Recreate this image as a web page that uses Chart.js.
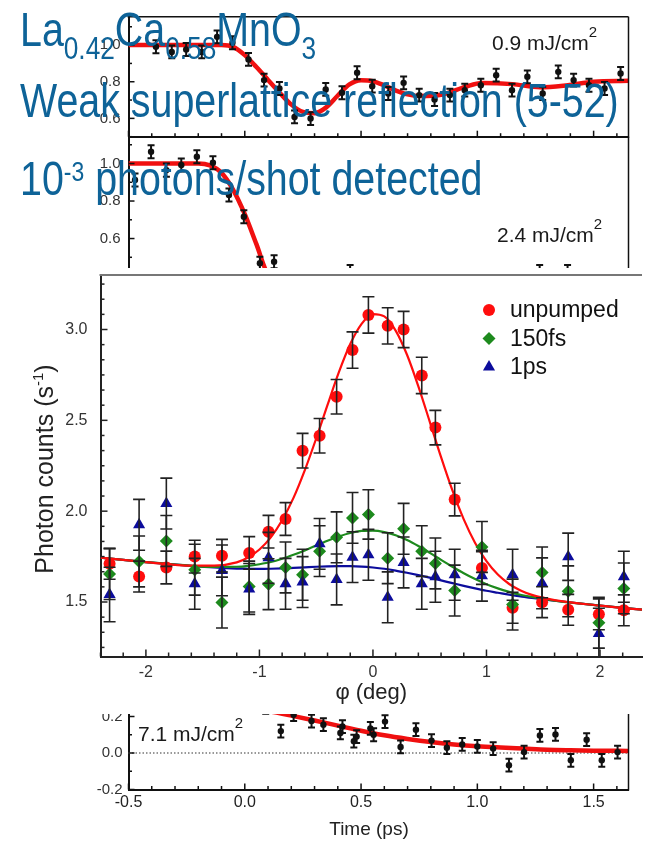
<!DOCTYPE html>
<html lang="en">
<head>
<meta charset="utf-8">
<title>LCMO superlattice reflection</title>
<script src="https://cdn.jsdelivr.net/npm/chart.js@4.4.1/dist/chart.umd.min.js"></script>
<style>
  html, body { margin: 0; padding: 0; background: #fff; }
  #page { position: relative; width: 649px; height: 843px; overflow: hidden; background: #fff;
          font-family: "Liberation Sans", Arial, Helvetica, sans-serif; }
  #page canvas { position: absolute; left: 0; }
  .soft { filter: blur(0.4px); }
  #mainBox { position: absolute; left: 0; top: 268px; width: 649px; height: 446px; background: #fff; z-index: 2; }
  #mainBox canvas { top: 0; }
  .note { position: absolute; left: 20px; font-size: 48px; line-height: 48px; color: #0e6398; white-space: nowrap;
          transform: scaleX(0.82); transform-origin: 0 0; z-index: 5; }
  .note .lo { font-size: 32px; position: relative; top: 13px; }
  .note .hi { font-size: 28px; position: relative; top: -14px; }
  .fluence { position: absolute; font-size: 21px; line-height: 21px; color: #1a1a1a; white-space: nowrap; z-index: 1;
             filter: blur(0.3px); }
  .fluence sup { font-size: 15px; position: relative; top: -13px; vertical-align: baseline; }
</style>
</head>
<body>
<div id="page">
  <canvas id="fluenceLow" class="soft" width="649" height="150" style="top:0"></canvas>
  <canvas id="fluenceMid" class="soft" width="649" height="200" style="top:130px"></canvas>
  <canvas id="fluenceHigh" class="soft" width="649" height="153" style="top:690px"></canvas>
  <div class="fluence" style="left:492px;top:32px">0.9 mJ/cm<sup>2</sup></div>
  <div class="fluence" style="left:497px;top:224px">2.4 mJ/cm<sup>2</sup></div>
  <div class="fluence" style="left:138px;top:723px">7.1 mJ/cm<sup>2</sup></div>
  <div id="mainBox"><canvas id="rocking" width="649" height="446"></canvas></div>
  <div class="note" style="top:6px">La<span class="lo">0.42</span>Ca<span class="lo">0.58</span>MnO<span class="lo">3</span></div>
  <div class="note" style="top:77px">Weak superlattice reflection (5-52)</div>
  <div class="note" style="top:155px">10<span class="hi">-3</span> photons/shot detected</div>
</div>
<script>
const PAGE_FONT = '"Liberation Sans", Arial, Helvetica, sans-serif';
Chart.defaults.font.family = PAGE_FONT;

// rocking curves: sample angle (deg) shared by all three scans
const phiDeg = [-2.32, -2.06, -1.82, -1.57, -1.33, -1.09, -0.92, -0.77, -0.62, -0.47, -0.32, -0.18,
                -0.04, 0.13, 0.27, 0.43, 0.55, 0.72, 0.96, 1.23, 1.49, 1.72, 1.99, 2.21];
const unpumped = [1.71, 1.64, 1.69, 1.75, 1.755, 1.77, 1.887, 1.957, 2.333, 2.415, 2.63, 2.887,
                  3.08, 3.02, 3.00, 2.747, 2.46, 2.064, 1.687, 1.468, 1.499, 1.457, 1.432, 1.454];
const unpumpedErr = [0.085, 0.085, 0.09, 0.09, 0.09, 0.09, 0.09, 0.09, 0.095, 0.095, 0.095, 0.1,
                     0.1, 0.1, 0.1, 0.1, 0.095, 0.09, 0.09, 0.085, 0.085, 0.085, 0.085, 0.085];
const delay150fs = [1.654, 1.723, 1.836, 1.678, 1.497, 1.585, 1.598, 1.69, 1.65, 1.78, 1.856, 1.963,
                    1.982, 1.741, 1.903, 1.78, 1.712, 1.563, 1.803, 1.486, 1.663, 1.559, 1.386, 1.575];
const delay150fsErr = [0.14, 0.14, 0.14, 0.14, 0.14, 0.14, 0.14, 0.14, 0.14, 0.14, 0.14, 0.14,
                       0.136, 0.14, 0.14, 0.14, 0.14, 0.14, 0.14, 0.14, 0.14, 0.14, 0.14, 0.14];
const delay1ps = [1.541, 1.925, 2.042, 1.60, 1.674, 1.572, 1.743, 1.60, 1.61, 1.82, 1.624, 1.747,
                  1.76, 1.526, 1.718, 1.60, 1.639, 1.65, 1.645, 1.65, 1.603, 1.749, 1.326, 1.639];
const delay1psErr = [0.15, 0.14, 0.14, 0.14, 0.14, 0.14, 0.14, 0.14, 0.14, 0.14, 0.14, 0.14,
                     0.14, 0.14, 0.14, 0.14, 0.14, 0.14, 0.14, 0.14, 0.14, 0.13, 0.14, 0.14];

// fitted profiles on a common angle grid
const fitPhi = [-2.4, -2.0, -1.6, -1.4, -1.2, -1.1, -1.0, -0.9, -0.8, -0.7, -0.6, -0.5, -0.4, -0.3, -0.2, -0.1,
                0.0, 0.1, 0.2, 0.3, 0.4, 0.5, 0.6, 0.7, 0.8, 0.9, 1.0, 1.1, 1.2, 1.3, 1.4, 1.6, 2.0, 2.37];
const unpumpedFit = [1.744, 1.72, 1.70, 1.70, 1.718, 1.745, 1.789, 1.856, 1.950, 2.073, 2.226, 2.400, 2.585, 2.765, 2.920, 3.031,
                     3.085, 3.072, 2.994, 2.861, 2.687, 2.493, 2.297, 2.114, 1.955, 1.825, 1.725, 1.651, 1.599, 1.563, 1.539, 1.510, 1.480, 1.458];
const delay150fsFit = [1.744, 1.72, 1.699, 1.693, 1.694, 1.699, 1.708, 1.72, 1.738, 1.76, 1.784, 1.811, 1.837, 1.861, 1.88, 1.891,
                       1.893, 1.885, 1.867, 1.841, 1.808, 1.771, 1.732, 1.694, 1.658, 1.626, 1.598, 1.575, 1.556, 1.54, 1.528, 1.508, 1.48, 1.458];
const delay1psFit = [1.744, 1.72, 1.699, 1.69, 1.684, 1.683, 1.682, 1.683, 1.685, 1.688, 1.691, 1.694, 1.696, 1.697, 1.697, 1.695,
                     1.69, 1.683, 1.673, 1.661, 1.648, 1.634, 1.619, 1.604, 1.589, 1.575, 1.562, 1.551, 1.54, 1.531, 1.522, 1.507, 1.48, 1.458];
const phiTicks = [-2, -1, 0, 1, 2];
const countTicks = [1.5, 2.0, 2.5, 3.0];

// time traces, 0.9 mJ/cm2
const lowTime = [-0.382, -0.314, -0.252, -0.185, -0.119, -0.053, 0.016, 0.083, 0.149, 0.214, 0.283, 0.348, 0.418, 0.483, 0.548, 0.617,
                 0.683, 0.75, 0.816, 0.882, 0.946, 1.015, 1.081, 1.149, 1.215, 1.281, 1.348, 1.414, 1.48, 1.547, 1.616];
const lowSignal = [0.991, 0.963, 0.976, 0.963, 1.045, 1.013, 0.922, 0.809, 0.763, 0.608, 0.599, 0.758, 0.74, 0.849, 0.776, 0.736,
                   0.794, 0.727, 0.703, 0.727, 0.754, 0.781, 0.836, 0.754, 0.827, 0.736, 0.854, 0.809, 0.781, 0.763, 0.845];
const lowErr = 0.035;
const lowFitTime = [-0.5, -0.1, -0.05, 0.0, 0.05, 0.1, 0.15, 0.2, 0.25, 0.3, 0.35, 0.4, 0.45, 0.5, 0.55, 0.6, 0.65, 0.7, 0.75,
                    0.85, 0.95, 1.02, 1.15, 1.27, 1.38, 1.5, 1.65];
const lowFit = [1.0, 1.0, 0.99, 0.945, 0.88, 0.81, 0.74, 0.675, 0.635, 0.628, 0.66, 0.725, 0.785, 0.808, 0.803, 0.78, 0.752, 0.731, 0.722,
                0.73, 0.773, 0.793, 0.787, 0.77, 0.78, 0.80, 0.805];
const lowTicks = [0.6, 0.8, 1.0];

// 2.4 mJ/cm2
const midTime = [-0.472, -0.403, -0.337, -0.273, -0.206, -0.137, -0.068, -0.004, 0.065, 0.126, 0.453, 1.268, 1.388];
const midSignal = [0.912, 1.063, 0.965, 0.992, 1.036, 1.004, 0.832, 0.716, 0.468, 0.476, 0.424, 0.424, 0.424];
const midErr = 0.035;
const midFitTime = [-0.5, -0.2, -0.15, -0.1, -0.05, 0.0, 0.05, 0.1, 0.2, 0.4];
const midFit = [1.0, 1.0, 0.99, 0.95, 0.86, 0.73, 0.57, 0.41, 0.36, 0.34];
const midTicks = [0.4, 0.6, 0.8, 1.0];

// 7.1 mJ/cm2
const highTime = [0.09, 0.155, 0.21, 0.287, 0.338, 0.411, 0.42, 0.469, 0.481, 0.54, 0.554, 0.603, 0.67, 0.736,
                  0.803, 0.869, 0.935, 1.0, 1.068, 1.136, 1.201, 1.269, 1.336, 1.402, 1.47, 1.535, 1.603];
const highSignal = [0.25, 0.12, 0.21, 0.175, 0.155, 0.11, 0.145, 0.065, 0.09, 0.135, 0.10, 0.172, 0.033, 0.128,
                    0.068, 0.029, 0.047, 0.036, 0.024, -0.067, 0.005, 0.096, 0.102, -0.04, 0.073, -0.04, 0.005];
const highErr = 0.035;
const highFitTime = [0.0, 0.1, 0.2, 0.3, 0.4, 0.5, 0.6, 0.7, 0.8, 0.9, 1.0, 1.1, 1.2, 1.3, 1.4, 1.5, 1.65];
const highFit = [0.25, 0.23, 0.205, 0.178, 0.15, 0.122, 0.097, 0.077, 0.06, 0.047, 0.037, 0.03, 0.024, 0.018, 0.015, 0.013, 0.011];
const highTicks = [-0.2, 0.0, 0.2];
const timeTicks = [-0.5, 0.0, 0.5, 1.0, 1.5];

const RED = '#ff0d0d';
const GREEN = '#1d8a1d';
const BLUE = '#0c0c9c';

const pairs = (xs, ys) => xs.map((x, i) => ({ x, y: ys[i] }));
const fixedTicks = values => scale => { scale.ticks = values.map(value => ({ value })); };
// pin axis boxes so the plot areas land where they should
const fixWidth = w => s => { s.width = w; s.paddingTop = 0; s.paddingBottom = 0; };
const fixHeight = h => s => { s.height = h; s.paddingLeft = 0; s.paddingRight = 0; };

// vertical error bars from a dataset's `errors` (array or single value)
const errorBars = {
  id: 'errorBars',
  afterDatasetsDraw(chart, args, opts) {
    const { ctx, chartArea: a, scales: { x, y } } = chart;
    ctx.save();
    ctx.beginPath();
    ctx.rect(a.left, a.top, a.right - a.left, a.bottom - a.top);
    ctx.clip();
    ctx.strokeStyle = opts.color;
    ctx.lineWidth = opts.width;
    chart.data.datasets.forEach(ds => {
      if (ds.errors === undefined) return;
      ds.data.forEach((pt, i) => {
        const e = Array.isArray(ds.errors) ? ds.errors[i] : ds.errors;
        const px = x.getPixelForValue(pt.x);
        const hi = y.getPixelForValue(pt.y + e);
        const lo = y.getPixelForValue(pt.y - e);
        ctx.beginPath();
        ctx.moveTo(px, hi); ctx.lineTo(px, lo);
        ctx.moveTo(px - opts.cap, hi); ctx.lineTo(px + opts.cap, hi);
        ctx.moveTo(px - opts.cap, lo); ctx.lineTo(px + opts.cap, lo);
        ctx.stroke();
      });
    });
    ctx.restore();
  }
};

// inward tick marks, the extra frame sides and an optional dotted zero line
const frameTicks = {
  id: 'frameTicks',
  beforeDatasetsDraw(chart, args, opts) {
    if (!opts.zero) return;
    const { ctx, chartArea: a, scales: { y } } = chart;
    const py = y.getPixelForValue(0);
    ctx.save();
    ctx.strokeStyle = '#777';
    ctx.lineWidth = 1.5;
    ctx.setLineDash([1.5, 2]);
    ctx.beginPath();
    ctx.moveTo(a.left, py); ctx.lineTo(a.right, py);
    ctx.stroke();
    ctx.restore();
  },
  afterDraw(chart, args, opts) {
    const { ctx, chartArea: a, scales } = chart;
    ctx.save();
    ctx.strokeStyle = opts.color;
    ctx.lineWidth = opts.width;
    const marks = (scale, step, major, horizontal) => {
      const first = Math.ceil(scale.min / step - 1e-6);
      const last = Math.floor(scale.max / step + 1e-6);
      for (let k = first; k <= last; k++) {
        const v = k * step;
        const isMajor = Math.abs(v / major - Math.round(v / major)) < 1e-6;
        const len = isMajor ? opts.majorLen : opts.minorLen;
        const p = scale.getPixelForValue(v);
        ctx.beginPath();
        if (horizontal) { ctx.moveTo(p, a.bottom); ctx.lineTo(p, a.bottom - len); }
        else { ctx.moveTo(a.left, p); ctx.lineTo(a.left + len, p); }
        ctx.stroke();
      }
    };
    marks(scales.x, opts.xMinor, opts.xMajor, true);
    marks(scales.y, opts.yMinor, opts.yMajor, false);
    if (opts.top) {
      ctx.strokeStyle = opts.top.color;
      ctx.lineWidth = opts.top.width;
      ctx.beginPath();
      ctx.moveTo(a.left - 1, a.top); ctx.lineTo(a.right, a.top);
      ctx.stroke();
    }
    if (opts.right) {
      ctx.strokeStyle = opts.right.color;
      ctx.lineWidth = opts.right.width;
      ctx.beginPath();
      ctx.moveTo(a.right, a.top); ctx.lineTo(a.right, a.bottom + 1);
      ctx.stroke();
    }
    ctx.restore();
  }
};

// legend inside the plot, built from the labelled datasets
const seriesKey = {
  id: 'seriesKey',
  afterDraw(chart, args, opts) {
    const ctx = chart.ctx;
    ctx.save();
    ctx.font = `${opts.size}px ${PAGE_FONT}`;
    ctx.textBaseline = 'middle';
    chart.data.datasets.filter(ds => ds.label).forEach((ds, i) => {
      const y = opts.y + i * opts.gap;
      ctx.fillStyle = ds.backgroundColor;
      Chart.helpers.drawPoint(ctx, { pointStyle: ds.pointStyle, radius: ds.pointRadius, rotation: 0, borderWidth: 0 }, opts.x, y);
      ctx.fillStyle = opts.color;
      ctx.fillText(ds.label, opts.x + opts.textGap, y + 1);
    });
    ctx.restore();
  }
};

// free axis captions (optionally rotated, with raised parts for exponents)
const captions = {
  id: 'captions',
  afterDraw(chart, args, opts) {
    const ctx = chart.ctx;
    const fontOf = p => `${p.size}px ${PAGE_FONT}`;
    opts.items.forEach(item => {
      ctx.save();
      ctx.translate(item.x, item.y);
      ctx.rotate(item.angle || 0);
      ctx.fillStyle = item.color;
      ctx.textBaseline = 'alphabetic';
      let total = 0;
      item.parts.forEach(p => { ctx.font = fontOf(p); total += ctx.measureText(p.text).width; });
      let cx = -total / 2;
      item.parts.forEach(p => {
        ctx.font = fontOf(p);
        ctx.fillText(p.text, cx, item.baseline - (p.rise || 0));
        cx += ctx.measureText(p.text).width;
      });
      ctx.restore();
    });
  }
};

function fitLine(xs, ys, color, width, order) {
  return { data: pairs(xs, ys), showLine: true, borderColor: color, borderWidth: width, pointRadius: 0,
           cubicInterpolationMode: 'monotone', fill: false, order };
}

// one time-resolved panel (shared time axis)
function timePanel(id, p) {
  return new Chart(document.getElementById(id), {
    type: 'scatter',
    data: {
      datasets: [
        fitLine(p.fitTime, p.fit, '#f01010', 4.5, 2),
        { data: pairs(p.time, p.signal), errors: p.err, pointRadius: 3.2, backgroundColor: '#111', borderWidth: 0, order: 1 }
      ]
    },
    options: {
      responsive: false, animation: false, events: [], devicePixelRatio: 1,
      layout: { padding: { top: p.padTop, right: 20.5, left: 0, bottom: 0 } },
      plugins: {
        legend: { display: false }, tooltip: { enabled: false },
        errorBars: { color: '#111', width: 2, cap: 3.5 },
        frameTicks: { color: '#111', width: 1.5, majorLen: 6, minorLen: 3.5,
                      xMinor: 0.1, xMajor: 0.5, yMinor: 0.1, yMajor: 0.2,
                      top: p.top ? { color: '#111', width: 1.5 } : null,
                      right: { color: '#111', width: 1.5 }, zero: p.zero },
        captions: { items: p.captions || [] }
      },
      scales: {
        x: {
          type: 'linear', min: -0.5, max: 1.65,
          afterBuildTicks: fixedTicks(timeTicks),
          ticks: { display: p.showTime, color: '#222', font: { size: 16 }, padding: 3, maxRotation: 0,
                   callback: v => v.toFixed(1) },
          grid: { display: false, drawTicks: false },
          border: { display: true, color: '#111', width: 2 },
          afterFit: fixHeight(p.xHeight)
        },
        y: {
          type: 'linear', min: p.yMin, max: p.yMax,
          afterBuildTicks: fixedTicks(p.yTicks),
          ticks: { color: '#333', font: { size: 15 }, padding: p.labelPad, callback: v => v.toFixed(1) },
          grid: { display: false, drawTicks: false },
          border: { display: true, color: '#111', width: 2 },
          afterFit: fixWidth(128.5)
        }
      }
    },
    plugins: [errorBars, frameTicks, captions]
  });
}

timePanel('fluenceLow', {
  time: lowTime, signal: lowSignal, err: lowErr, fitTime: lowFitTime, fit: lowFit,
  yMin: 0.5, yMax: 1.155, yTicks: lowTicks, padTop: 16.7, xHeight: 13.3, labelPad: 8,
  top: true, showTime: false, zero: false
});

timePanel('fluenceMid', {
  time: midTime, signal: midSignal, err: midErr, fitTime: midFitTime, fit: midFit,
  yMin: 0.3, yMax: 1.143, yTicks: midTicks, padTop: 6.7, xHeight: 35.2, labelPad: 8,
  top: false, showTime: false, zero: false
});

timePanel('fluenceHigh', {
  time: highTime, signal: highSignal, err: highErr, fitTime: highFitTime, fit: highFit,
  yMin: -0.2, yMax: 0.3, yTicks: highTicks, padTop: 8.25, xHeight: 53.5, labelPad: 6,
  top: true, showTime: true, zero: true,
  captions: [{ x: 369, y: 138, baseline: 7, color: '#222', parts: [{ text: 'Time (ps)', size: 19 }] }]
});

// main rocking-curve plot
new Chart(document.getElementById('rocking'), {
  type: 'scatter',
  data: {
    datasets: [
      fitLine(fitPhi, delay1psFit, BLUE, 2.2, 6),
      fitLine(fitPhi, delay150fsFit, GREEN, 2.2, 5),
      fitLine(fitPhi, unpumpedFit, RED, 2.2, 4),
      { label: 'unpumped', data: pairs(phiDeg, unpumped), errors: unpumpedErr, pointStyle: 'circle',
        pointRadius: 6, backgroundColor: RED, borderWidth: 0, order: 3 },
      { label: '150fs', data: pairs(phiDeg, delay150fs), errors: delay150fsErr, pointStyle: 'rectRot',
        pointRadius: 6.5, backgroundColor: GREEN, borderWidth: 0, order: 2 },
      { label: '1ps', data: pairs(phiDeg, delay1ps), errors: delay1psErr, pointStyle: 'triangle',
        pointRadius: 7, backgroundColor: BLUE, borderWidth: 0, order: 1 }
    ]
  },
  options: {
    responsive: false, animation: false, events: [], devicePixelRatio: 1,
    layout: { padding: { top: 4.5, right: 0, left: 0, bottom: 0 } },
    plugins: {
      legend: { display: false }, tooltip: { enabled: false },
      errorBars: { color: '#222', width: 1.6, cap: 6 },
      frameTicks: { color: '#222', width: 1.5, majorLen: 7, minorLen: 4,
                    xMinor: 0.2, xMajor: 1, yMinor: 1 / 12, yMajor: 0.5,
                    top: { color: '#777', width: 2 }, right: null, zero: false },
      seriesKey: { x: 489, y: 42, gap: 28.5, textGap: 21, size: 23, color: '#111' },
      captions: { items: [{
        x: 44, y: 201, angle: -Math.PI / 2, baseline: 9, color: '#222',
        parts: [{ text: 'Photon counts (s', size: 25 }, { text: '-1', size: 15, rise: 10 }, { text: ')', size: 25 }]
      }] }
    },
    scales: {
      x: {
        type: 'linear', min: -2.4, max: 2.37,
        afterBuildTicks: fixedTicks(phiTicks),
        ticks: { color: '#333', font: { size: 16 }, padding: 6, maxRotation: 0, callback: v => String(v) },
        grid: { display: false, drawTicks: false },
        border: { display: true, color: '#222', width: 2 },
        title: { display: true, text: 'φ (deg)', color: '#222', font: { size: 22 }, padding: { top: 0, bottom: 8 } },
        afterFit: fixHeight(57.5)
      },
      y: {
        type: 'linear', min: 1.2, max: 3.3,
        afterBuildTicks: fixedTicks(countTicks),
        ticks: { color: '#333', font: { size: 16 }, padding: 13, callback: v => v.toFixed(1) },
        grid: { display: false, drawTicks: false },
        border: { display: true, color: '#222', width: 2 },
        afterFit: fixWidth(100.5)
      }
    }
  },
  plugins: [errorBars, frameTicks, seriesKey, captions]
});
</script>
</body>
</html>
